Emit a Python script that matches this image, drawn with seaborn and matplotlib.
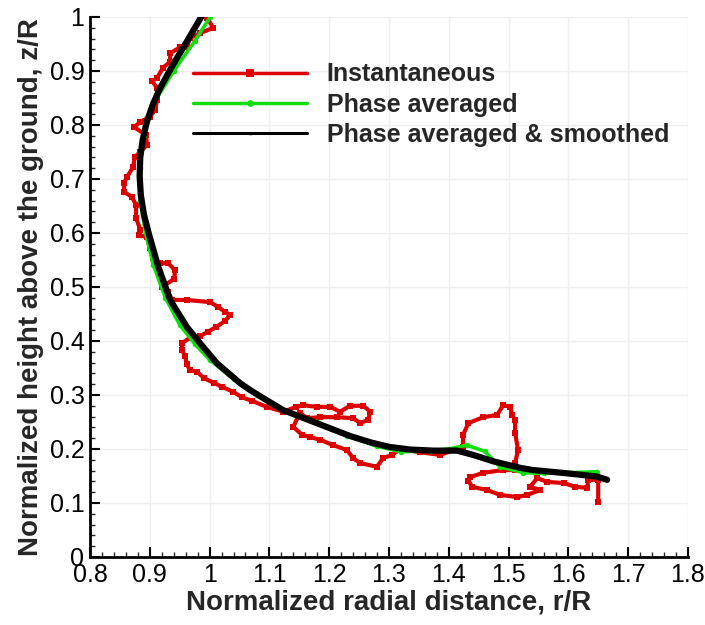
import numpy as np
import pandas as pd
import matplotlib
matplotlib.use('Agg')
import matplotlib.pyplot as plt
from matplotlib.ticker import MultipleLocator, FormatStrFormatter
import seaborn as sns

# instantaneous vortex-core trajectory (r/R, z/R)
inst_r = [0.996, 1.006, 0.984, 0.967, 0.962, 0.951, 0.934, 0.934, 0.922, 0.912,
          0.904, 0.912, 0.912, 0.909, 0.900, 0.884, 0.874, 0.894, 0.895, 0.884,
          0.875, 0.872, 0.862, 0.857, 0.857, 0.870, 0.877, 0.877, 0.884, 0.882,
          0.895, 0.900, 0.905, 0.917, 0.931, 0.942, 0.941, 0.920, 0.931, 0.937,
          0.962, 1.001, 1.014, 1.026, 1.034, 1.026, 1.011, 0.997, 0.984, 0.967,
          0.954, 0.954, 0.959, 0.962, 0.967, 0.979, 0.991, 1.008, 1.021, 1.039,
          1.054, 1.071, 1.096, 1.123, 1.145, 1.156, 1.180, 1.202, 1.218, 1.235,
          1.257, 1.269, 1.265, 1.252, 1.240, 1.213, 1.185, 1.163, 1.151, 1.140,
          1.155, 1.168, 1.185, 1.207, 1.230, 1.240, 1.252, 1.280, 1.290, 1.305,
          1.319, 1.352, 1.386, 1.408, 1.424, 1.424, 1.433, 1.458, 1.481, 1.491,
          1.503, 1.506, 1.511, 1.511, 1.516, 1.511, 1.511, 1.491, 1.458, 1.436,
          1.433, 1.439, 1.464, 1.486, 1.515, 1.531, 1.553, 1.536, 1.548, 1.565,
          1.592, 1.612, 1.632, 1.633, 1.650, 1.650]
inst_z = [0.998, 0.980, 0.970, 0.961, 0.944, 0.944, 0.933, 0.917, 0.906, 0.887,
          0.881, 0.869, 0.846, 0.828, 0.815, 0.806, 0.796, 0.781, 0.763, 0.750,
          0.741, 0.722, 0.704, 0.693, 0.676, 0.667, 0.652, 0.628, 0.606, 0.596,
          0.593, 0.572, 0.554, 0.544, 0.544, 0.531, 0.515, 0.500, 0.491, 0.476,
          0.476, 0.472, 0.463, 0.454, 0.448, 0.437, 0.426, 0.417, 0.409, 0.406,
          0.396, 0.383, 0.372, 0.357, 0.346, 0.343, 0.331, 0.322, 0.315, 0.306,
          0.296, 0.289, 0.278, 0.269, 0.278, 0.281, 0.278, 0.278, 0.269, 0.280,
          0.280, 0.269, 0.254, 0.248, 0.257, 0.259, 0.259, 0.257, 0.267, 0.241,
          0.226, 0.222, 0.217, 0.207, 0.198, 0.183, 0.174, 0.167, 0.183, 0.189,
          0.200, 0.194, 0.189, 0.198, 0.204, 0.226, 0.248, 0.259, 0.263, 0.281,
          0.278, 0.263, 0.254, 0.230, 0.198, 0.174, 0.161, 0.161, 0.156, 0.148,
          0.141, 0.130, 0.124, 0.115, 0.111, 0.115, 0.124, 0.130, 0.146, 0.139,
          0.137, 0.130, 0.128, 0.143, 0.143, 0.102]

# phase averaged
avg_r = [1.001, 0.975, 0.940, 0.906, 0.890, 0.883, 0.884, 0.893, 0.906, 0.926,
         0.950, 0.975, 1.000, 1.040, 1.080, 1.120, 1.180, 1.230, 1.280, 1.320,
         1.370, 1.400, 1.430, 1.460, 1.486, 1.525, 1.560, 1.600, 1.648]
avg_z = [1.000, 0.955, 0.900, 0.840, 0.780, 0.720, 0.660, 0.600, 0.540, 0.480,
         0.430, 0.395, 0.365, 0.330, 0.300, 0.275, 0.250, 0.225, 0.205, 0.195,
         0.196, 0.200, 0.207, 0.196, 0.167, 0.156, 0.155, 0.156, 0.158]

# phase averaged & smoothed
smooth_r = [0.986, 0.960, 0.938, 0.918, 0.905, 0.895, 0.888, 0.884, 0.883, 0.885,
            0.890, 0.898, 0.914, 0.934, 0.962, 0.984, 1.012, 1.051, 1.068, 1.090,
            1.123, 1.179, 1.235, 1.270, 1.300, 1.335, 1.374, 1.414, 1.441, 1.475,
            1.520, 1.541, 1.598, 1.648, 1.665]
smooth_z = [1.000, 0.951, 0.910, 0.870, 0.838, 0.806, 0.772, 0.740, 0.705, 0.670,
            0.635, 0.600, 0.538, 0.476, 0.426, 0.396, 0.359, 0.322, 0.309, 0.294,
            0.272, 0.248, 0.224, 0.212, 0.204, 0.199, 0.197, 0.197, 0.189, 0.177,
            0.165, 0.161, 0.155, 0.149, 0.143]

sns.set_style('white')
plt.rcParams['font.family'] = ['Liberation Sans', 'DejaVu Sans']

fig = plt.figure(figsize=(7.05, 6.25), dpi=100)
ax = fig.add_axes([0.1277, 0.1088, 0.848, 0.864])

sns.lineplot(x=inst_r, y=inst_z, sort=False, estimator=None, ax=ax,
             color='#dd0000', linewidth=3, marker='s', markersize=5,
             markeredgewidth=0, label='Instantaneous')
sns.lineplot(x=avg_r, y=avg_z, sort=False, estimator=None, ax=ax,
             color='#11dd11', linewidth=2.6, marker='o', markersize=4,
             markeredgewidth=0, label='Phase averaged')
sns.lineplot(x=smooth_r, y=smooth_z, sort=False, estimator=None, ax=ax,
             color='black', linewidth=4.5, marker='^', markersize=2,
             markeredgewidth=0, label='Phase averaged & smoothed')

ax.set_xlim(0.8, 1.8)
ax.set_ylim(0, 1)
ax.xaxis.set_major_locator(MultipleLocator(0.1))
ax.xaxis.set_minor_locator(MultipleLocator(0.02))
ax.yaxis.set_major_locator(MultipleLocator(0.1))
ax.yaxis.set_minor_locator(MultipleLocator(0.02))
ax.xaxis.set_major_formatter(FormatStrFormatter('%g'))
ax.yaxis.set_major_formatter(FormatStrFormatter('%g'))

ax.grid(True, which='major', color='#efefef', linewidth=1)
ax.tick_params(which='major', direction='in', length=7, width=1.5,
               labelsize=18, colors='black', pad=4)
ax.tick_params(which='minor', direction='in', length=3.5, width=1)
ax.tick_params(top=False, right=False, bottom=True, left=True, which='both')
for side in ['top', 'right']:
    ax.spines[side].set_visible(False)
for side in ['left', 'bottom']:
    ax.spines[side].set_linewidth(2)
    ax.spines[side].set_color('black')

ax.set_xlabel('Normalized radial distance, r/R', fontsize=20,
              fontweight='bold', labelpad=2)
ax.set_ylabel('Normalized height above the ground, z/R', fontsize=20,
              fontweight='bold', labelpad=4)

leg = ax.legend(loc='upper left', bbox_to_anchor=(0.172, 0.916), frameon=False,
                prop={'weight': 'bold', 'size': 18},
                handlelength=4.56, handletextpad=0.8, labelspacing=0.25,
                borderpad=0, borderaxespad=0, numpoints=1, markerscale=1.2)
leg.get_lines()[0].set_linewidth(2.5)
leg.get_lines()[1].set_linewidth(2.5)
leg.get_lines()[2].set_linewidth(2.2)

fig.savefig('out.png', dpi=100)
